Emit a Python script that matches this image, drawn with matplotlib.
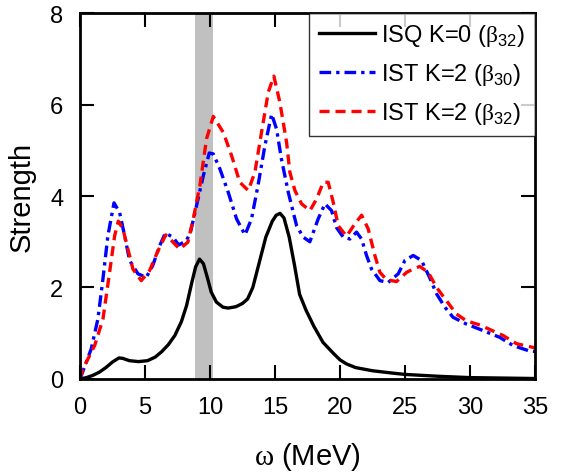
import numpy as np
import matplotlib.pyplot as plt

plt.rcParams['font.family'] = ['Liberation Sans', 'DejaVu Sans']
plt.rcParams['mathtext.fontset'] = 'custom'
plt.rcParams['mathtext.rm'] = 'Liberation Sans'
plt.rcParams['mathtext.sf'] = 'Liberation Serif'

# ISQ K=0 (beta32)
isq_w = [0, 0.5, 1, 1.5, 2, 2.5, 3.0, 3.3, 3.8, 4.5, 5.2, 5.8, 6.3, 6.8, 7.3, 7.8, 8.2, 8.6, 8.9,
         9.2, 9.5, 9.8, 10.1, 10.5, 11.0, 11.4, 12.0, 12.5, 12.9, 13.3, 13.8, 14.3, 14.8, 15.1,
         15.4, 15.7, 16.1, 16.5, 16.9, 17.4, 18.0, 18.7, 19.5, 20.0, 20.5, 21.2, 22.5, 24, 25,
         27.5, 30, 35]
isq_s = [0, 0.03, 0.08, 0.15, 0.25, 0.37, 0.46, 0.45, 0.4, 0.38, 0.4, 0.48, 0.6, 0.75, 0.95, 1.25,
         1.6, 2.1, 2.45, 2.62, 2.52, 2.22, 1.9, 1.68, 1.57, 1.55, 1.58, 1.65, 1.75, 2.0, 2.55, 3.1,
         3.45, 3.58, 3.62, 3.52, 3.1, 2.5, 1.85, 1.5, 1.15, 0.8, 0.56, 0.42, 0.33, 0.25, 0.18,
         0.13, 0.1, 0.06, 0.03, 0.01]

# IST K=2 (beta30)
b30_w = [0, 0.1, 0.87, 1.38, 1.77, 2.15, 2.62, 3.05, 3.44, 3.82, 4.46, 5.1, 5.6, 6.13, 6.57,
         7.15, 7.6, 8.18, 8.5, 8.97, 9.49, 9.95, 10.26, 10.77, 11.41, 12.05, 12.7, 13.2, 13.7,
         14.23, 14.75, 15.13, 15.5, 16.03, 16.67, 17.18, 17.69, 18.33, 18.85, 19.36, 19.74,
         20.26, 20.77, 21.28, 21.67, 22.05, 22.44, 23.08, 23.72, 24.49, 25.0, 25.64, 26.28,
         26.9, 27.44, 28.08, 28.7, 29.74, 31.0, 32.3, 33.33, 34.5, 35]
b30_s = [0, 0.07, 0.66, 1.31, 2.19, 3.13, 3.85, 3.64, 3.13, 2.59, 2.3, 2.22, 2.48, 2.91, 3.19,
         3.1, 2.93, 3.02, 3.2, 3.79, 4.44, 4.94, 4.92, 4.59, 4.08, 3.5, 3.15, 3.5, 4.23,
         5.1, 5.79, 5.46, 4.81, 4.08, 3.35, 3.1, 3.0, 3.5, 3.83, 3.68, 3.31,
         3.1, 3.06, 3.21, 3.06, 2.7, 2.4, 2.15, 2.11, 2.3, 2.59, 2.7, 2.59,
         2.22, 1.86, 1.57, 1.35, 1.2, 1.06, 0.91, 0.73, 0.62, 0.6]

# IST K=2 (beta32)
b32_w = [0, 0.23, 1.13, 1.77, 2.28, 2.67, 2.95, 3.31, 3.69, 4.08, 4.72, 5.36, 6.0, 6.6, 7.1,
         7.67, 8.3, 8.72, 9.23, 9.74, 10.26, 11.03, 11.67, 12.3, 12.95, 13.46, 13.97, 14.49,
         14.92, 15.38, 15.9, 16.15, 16.54, 17.05, 17.69, 18.2, 18.72, 19.1, 19.49, 19.87, 20.51,
         21.15, 21.67, 22.18, 22.69, 23.08, 23.59, 24.36, 25.13, 25.6, 26.15, 26.8, 27.44, 28.2,
         28.97, 29.74, 30.77, 32.56, 33.6, 34.87, 35]
b32_s = [0, 0.22, 0.73, 1.31, 2.33, 3.13, 3.45, 3.28, 2.84, 2.4, 2.15, 2.37, 2.8, 3.15, 3.01,
         2.84, 2.99, 3.5, 4.23, 5.25, 5.74, 5.39, 4.88, 4.3, 4.12, 4.52, 5.39, 6.27,
         6.62, 6.05, 5.17, 4.52, 4.12, 3.83, 3.68, 3.93, 4.3, 4.3, 3.86, 3.35, 3.12,
         3.39, 3.58, 3.28, 2.7, 2.33, 2.17, 2.13, 2.33, 2.4, 2.46, 2.33, 2.0, 1.71,
         1.42, 1.27, 1.18, 0.95, 0.77, 0.69, 0.68]

band = (8.85, 10.2)

fig = plt.figure(figsize=(5.63, 4.77), dpi=100)
ax = fig.add_axes([0.142, 0.2034, 0.808, 0.7672])

ax.axvspan(band[0], band[1], color='#c0c0c0', lw=0, zorder=0)
ax.plot(isq_w, isq_s, color='black', lw=2.4, solid_joinstyle='round',
        label=r'ISQ K=0 ($\mathsf{\beta}_{32}$)')
ax.plot(b30_w, b30_s, color='blue', lw=2.4, linestyle=(0, (3.5, 1.5, 1, 1.5)),
        dash_joinstyle='round', label=r'IST K=2 ($\mathsf{\beta}_{30}$)')
ax.plot(b32_w, b32_s, color='red', lw=2.4, linestyle=(0, (3, 1.8)),
        dash_joinstyle='round', label=r'IST K=2 ($\mathsf{\beta}_{32}$)')

ax.set_xlim(0, 35)
ax.set_ylim(0, 8)
ax.set_xticks(np.arange(0, 36, 5))
ax.set_yticks(np.arange(0, 9, 2))
ax.tick_params(direction='in', length=10, width=1.5, labelsize=17, top=True, right=True, pad=12)
for s in ax.spines.values():
    s.set_linewidth(2)

ax.set_xlabel(r'$\mathsf{\omega}$ (MeV)', fontsize=21, labelpad=16)
ax.set_ylabel('Strength', fontsize=21, labelpad=10)

leg = ax.legend(loc='upper right', fontsize=17, frameon=True, fancybox=False, borderaxespad=0,
                handlelength=2.4, handletextpad=0.25, labelspacing=0.55, borderpad=0.4)
leg.get_frame().set_edgecolor('black')
leg.get_frame().set_linewidth(1)

fig.savefig('out.png', dpi=100)
